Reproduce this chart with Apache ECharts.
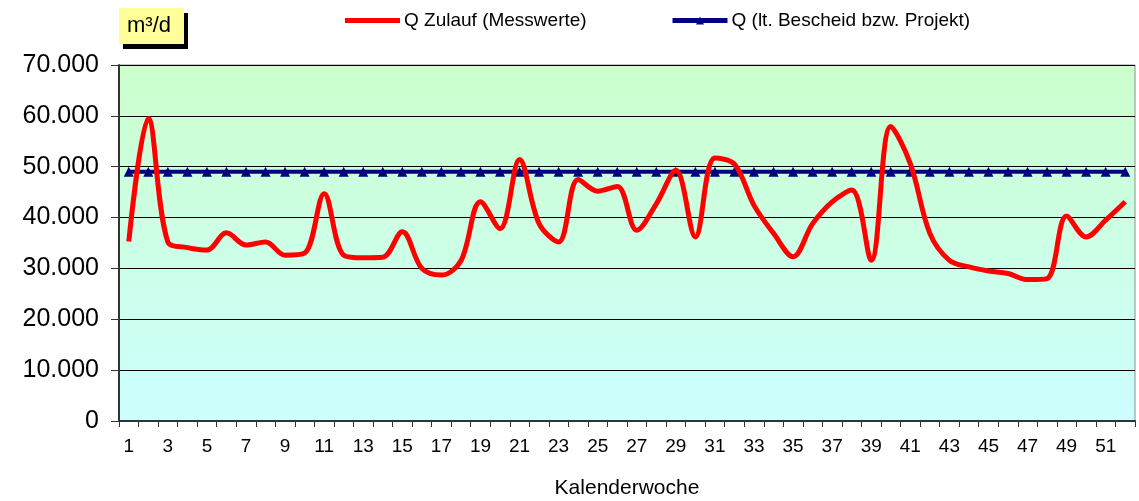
<!DOCTYPE html>
<html><head><meta charset="utf-8">
<script src="https://cdn.jsdelivr.net/npm/echarts@6/dist/echarts.min.js"></script>
<style>html,body{margin:0;padding:0;background:#fff}#c{width:1139px;height:501px}</style>
</head><body><div id="c"></div>
<script>
const weeks = Array.from({length:52},(_,i)=>String(i+1));
const zulauf = [35300,59500,35200,34100,33600,37000,34600,35200,32600,33000,
44700,32600,32100,32200,37200,30000,28700,31500,43100,37800,
51400,38800,35200,47500,45200,46100,37500,42700,49300,36200,
51700,50500,42400,36900,32300,38800,43100,45400,31600,57900,
50600,36900,31600,30300,29500,29000,27800,28000,40300,36200,
39500,43100];
const bescheid = weeks.map(()=>49000);
const yTicks = [0,10000,20000,30000,40000,50000,60000,70000];

const fmt = v => v===0 ? '0' : String(v).replace(/\B(?=(\d{3})+(?!\d))/g,'.');
const FF = 'Liberation Sans, Arial, sans-serif';
const chart = echarts.init(document.getElementById('c'));
chart.setOption({
  animation:false,
  textStyle:{fontFamily:FF},
  grid:{left:119,right:4,top:65,bottom:80,show:true,borderColor:'#8c8c8c',borderWidth:1,
    outerBoundsMode:'none',containLabel:false,
    backgroundColor:new echarts.graphic.LinearGradient(0,0,0,1,[{offset:0,color:'#ccffcc'},{offset:1,color:'#ccffff'}])},
  legend:[
    {left:345,top:11,padding:0,itemWidth:55,itemHeight:5,icon:'rect',
      data:[{name:'Q Zulauf (Messwerte)'}],textStyle:{fontSize:19,color:'#000',padding:[0,0,0,-1]}},
    {left:670,top:11,padding:0,itemWidth:55,itemHeight:10,lineStyle:{width:5},
      data:[{name:'Q (lt. Bescheid bzw. Projekt)'}],textStyle:{fontSize:19,color:'#000',padding:[0,0,0,-1]}}
  ],
  xAxis:{type:'category',data:weeks,boundaryGap:true,
    name:'Kalenderwoche',nameLocation:'middle',nameGap:57,nameTextStyle:{fontSize:21,color:'#000'},
    axisLine:{lineStyle:{color:'#333',width:2}},
    axisTick:{show:true,interval:0,length:6,lineStyle:{color:'#333'}},
    axisLabel:{interval:1,fontSize:19,color:'#000',margin:16}},
  yAxis:{type:'value',min:0,max:70000,interval:10000,
    axisLine:{show:true,lineStyle:{color:'#333',width:2}},
    axisTick:{show:true,length:8,lineStyle:{color:'#333'}},
    axisLabel:{fontSize:25,color:'#000',margin:20,formatter:v=>yTicks.includes(v)?fmt(v):''},
    splitLine:{lineStyle:{color:'#000',width:1}}},
  series:[
    {name:'Q Zulauf (Messwerte)',type:'line',data:zulauf,smooth:0.35,symbol:'none',
      lineStyle:{color:'#ff0000',width:5},itemStyle:{color:'#ff0000'},z:3},
    {name:'Q (lt. Bescheid bzw. Projekt)',type:'line',data:bescheid,symbol:'triangle',symbolSize:10,
      lineStyle:{color:'#000080',width:4},itemStyle:{color:'#000080'},z:2}
  ],
  graphic:[
    {type:'rect',shape:{x:123,y:13,width:65,height:36},style:{fill:'#000'}},
    {type:'rect',shape:{x:119,y:8,width:65,height:36},style:{fill:'#ffff99'}},
    {type:'text',left:127,top:15,style:{text:'m³/d',fontSize:22,fill:'#000',fontFamily:FF}}
  ]
});
</script></body></html>
